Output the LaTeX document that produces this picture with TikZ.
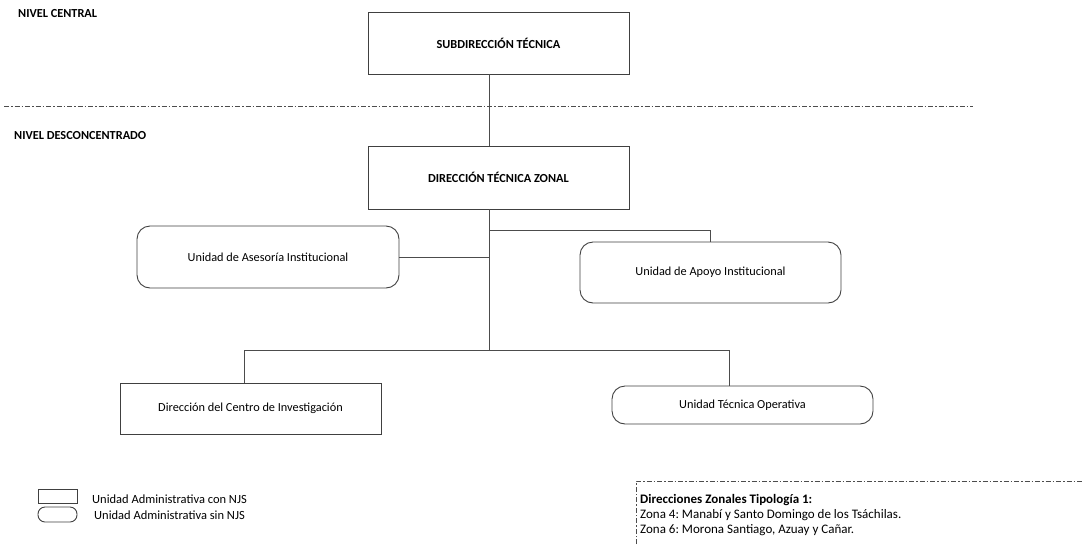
\documentclass[tikz,border=0pt]{standalone}
\usepackage{fontspec}
\setmainfont{Carlito}
\frenchspacing
\begin{document}
\begin{tikzpicture}[x=1pt,y=-1pt,
  sq/.style={draw=black!75,line width=0.9pt,fill=white,inner sep=0pt,font=\fontsize{12.3}{14}\selectfont},
  rd/.style={sq,rounded corners=13pt},
  hd/.style={font=\fontsize{12.3}{14}\selectfont\bfseries,inner sep=0pt,anchor=west},
  tx/.style={font=\fontsize{12.5}{14}\selectfont,inner sep=0pt,anchor=west},
  ln/.style={draw=black!70,line width=1pt},
  dd/.style={draw=black!70,line width=0.8pt,dash pattern=on 5pt off 2pt on 1.5pt off 2pt}]
\useasboundingbox (0,0) rectangle (1083,544);
% level labels and divider
\node[hd] (nc) at (18,14) {NIVEL CENTRAL};
\node[hd] (nd) at (14,136) {NIVEL DESCONCENTRADO};
\coordinate (dl) at (4,106);
\coordinate (dr) at (973,106);
\draw[dd] (dl) -- (dr);
% boxes
\node[sq,minimum width=261pt,minimum height=62pt,font=\fontsize{12.3}{14}\selectfont\bfseries] (sub) at (498.5,43) {SUBDIRECCIÓN TÉCNICA};
\node[sq,minimum width=261pt,minimum height=63pt,font=\fontsize{12.3}{14}\selectfont\bfseries] (dtz) at (498.5,177.5) {DIRECCIÓN TÉCNICA ZONAL};
\node[rd,minimum width=262pt,minimum height=62pt] (uai) at (268,257) {Unidad de Asesoría Institucional};
\node[rd,minimum width=261pt,minimum height=61pt] (uap) at (710.5,272.5) {Unidad de Apoyo Institucional};
\node[sq,minimum width=261pt,minimum height=51pt] (dci) at (250.5,408.5) {Dirección del Centro de Investigación};
\node[rd,minimum width=261pt,minimum height=38pt] (uto) at (742.5,405) {Unidad Técnica Operativa};
% connectors
\coordinate (trunk) at (489,350);
\coordinate (j1) at (489,230);
\draw[ln] (sub.south -| trunk) -- (dtz.north -| trunk);
\draw[ln] (dtz.south -| trunk) -- (trunk);
\draw[ln] (uai.east) -- (uai.east -| trunk);
\draw[ln] (j1) -| (uap.north);
\draw[ln] (dci.north -| 244,0) |- (trunk);
\draw[ln] (trunk) -- (729,350) -- (uto.north -| 729,0);
% legend
\node[sq,line width=0.9pt,minimum width=39pt,minimum height=14pt] (lg1) at (57.5,496) {};
\node[sq,line width=0.9pt,rounded corners=7pt,minimum width=39pt,minimum height=15pt] (lg2) at (57.5,514.5) {};
\node[tx] (lt1) at (92,499) {Unidad Administrativa con NJS};
\node[tx] (lt2) at (94,515) {Unidad Administrativa sin NJS};
% note
\coordinate (n0) at (636,544);
\coordinate (n1) at (636,481);
\coordinate (n2) at (1083,481);
\draw[dd,line width=0.6pt] (n0) -- (n1) -- (n2);
\node[tx,font=\fontsize{13}{14}\selectfont\bfseries] (nt1) at (640,500) {Direcciones Zonales Tipología 1:};
\node[tx,font=\fontsize{13}{14}\selectfont] (nt2) at (640,515) {Zona 4: Manabí y Santo Domingo de los Tsáchilas.};
\node[tx,font=\fontsize{13}{14}\selectfont] (nt3) at (640,530) {Zona 6: Morona Santiago, Azuay y Cañar.};
\end{tikzpicture}
\end{document}
